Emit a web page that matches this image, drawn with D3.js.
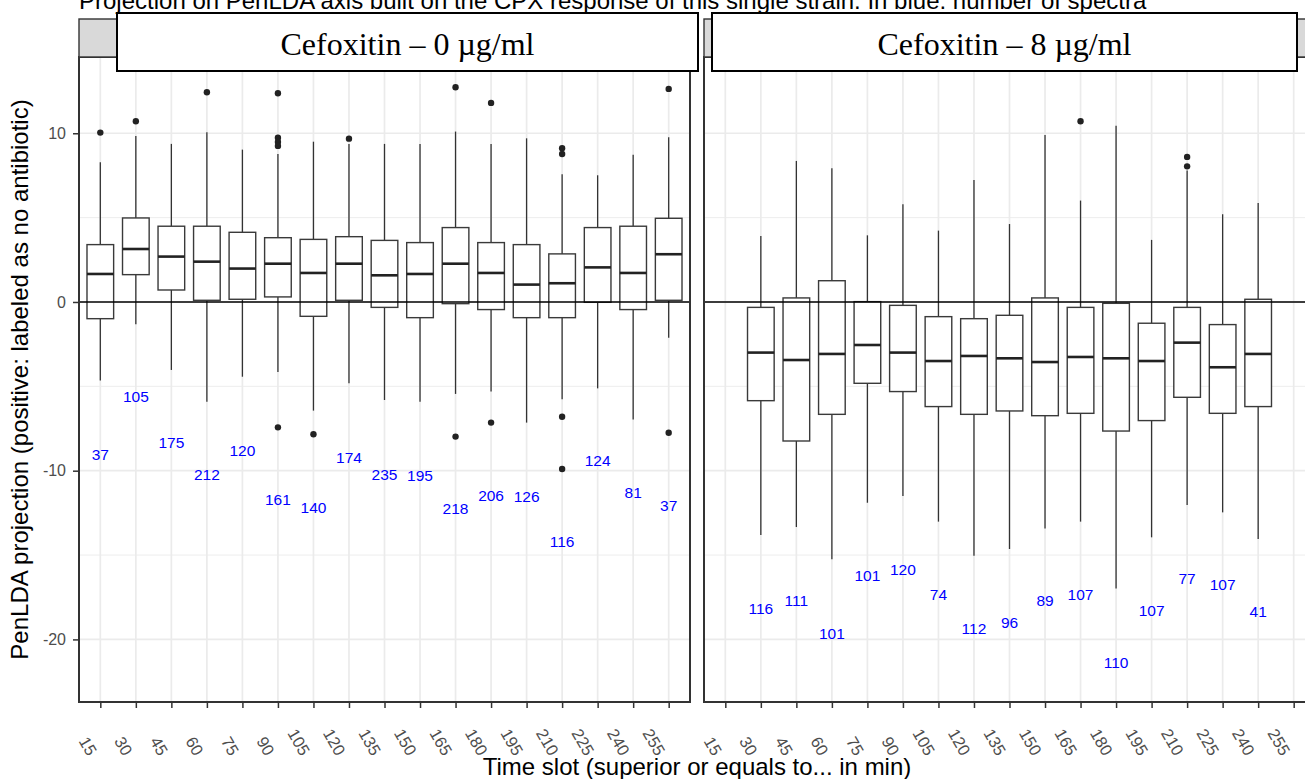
<!DOCTYPE html>
<html><head><meta charset="utf-8">
<script src="https://cdn.jsdelivr.net/npm/d3@7"></script>
<style>body{margin:0;background:#fff} svg{display:block}</style>
</head><body>
<svg id="chart" width="1305" height="779"></svg>
<script>
// ---------------- DATA ----------------
const titleText = "Projection on PenLDA axis built on the CPX response of this single strain. In blue: number of spectra";
const xTitle = "Time slot (superior or equals to... in min)";
const yTitle = "PenLDA projection (positive: labeled as no antibiotic)";
const panelLabels = ["Cefoxitin \u2013 0 \u00b5g/ml", "Cefoxitin \u2013 8 \u00b5g/ml"];
const timeSlots = ["15","30","45","60","75","90","105","120","135","150","165","180","195","210","225","240","255"];
const yTicks = [-20, -10, 0, 10];
const yMinorTicks = [-15, -5, 5];

// Cefoxitin 0 ug/ml
const fox0Lower  = [-4.66, -1.32, -4.03, -5.91, -4.43, -4.15, -6.44, -4.82, -5.81, -5.91, -5.45, -5.31, -7.15, -5.77, -5.12, -6.96, -2.12];
const fox0Q1     = [-0.99, 1.62, 0.71, 0.10, 0.16, 0.30, -0.85, 0.10, -0.32, -0.93, -0.10, -0.45, -0.93, -0.93, -0.02, -0.45, 0.10];
const fox0Median = [1.66, 3.14, 2.69, 2.39, 1.98, 2.27, 1.72, 2.27, 1.58, 1.66, 2.27, 1.72, 1.03, 1.11, 2.05, 1.72, 2.83];
const fox0Q3     = [3.40, 4.98, 4.49, 4.49, 4.13, 3.81, 3.71, 3.87, 3.65, 3.52, 4.41, 3.52, 3.40, 2.85, 4.41, 4.49, 4.96];
const fox0Upper  = [8.28, 9.84, 9.37, 10.06, 9.03, 8.77, 9.50, 9.37, 9.37, 9.37, 10.10, 9.37, 9.70, 7.57, 7.51, 8.73, 9.76];
const fox0Outliers = [[10.04],[10.71],[],[12.43],[],[12.37,9.74,9.48,9.25,-7.43],[-7.84],[9.68],[],[],[12.73,-7.98],[11.80,-7.15],[],[9.11,8.77,-6.80,-9.90],[],[],[12.63,-7.75]];
const fox0Counts = [37,105,175,212,120,161,140,174,235,195,218,206,126,116,124,81,37];
const fox0CountY = [-9.03,-5.61,-8.34,-10.21,-8.77,-11.70,-12.15,-9.23,-10.21,-10.28,-12.21,-11.44,-11.50,-14.17,-9.42,-11.30,-12.03];

// Cefoxitin 8 ug/ml (no spectra at 15 and 255)
const fox8Lower  = [null, -13.81, -13.34, -15.25, -11.90, -11.50, -13.02, -15.04, -14.64, -13.42, -13.02, -16.98, -13.95, -12.03, -12.47, -14.05, null];
const fox8Q1     = [null, -5.85, -8.24, -6.66, -4.82, -5.31, -6.20, -6.66, -6.46, -6.74, -6.60, -7.65, -7.03, -5.65, -6.60, -6.20, null];
const fox8Median = [null, -3.00, -3.44, -3.08, -2.55, -3.00, -3.50, -3.20, -3.34, -3.56, -3.26, -3.34, -3.50, -2.41, -3.87, -3.08, null];
const fox8Q3     = [null, -0.32, 0.24, 1.26, 0.02, -0.20, -0.87, -0.99, -0.79, 0.24, -0.32, -0.08, -1.26, -0.32, -1.34, 0.16, null];
const fox8Upper  = [null, 3.91, 8.36, 7.92, 3.95, 5.79, 4.23, 7.23, 4.62, 9.90, 6.01, 10.45, 3.68, 7.79, 5.20, 5.87, null];
const fox8Outliers = [[],[],[],[],[],[],[],[],[],[],[10.71],[],[],[8.60,8.04],[],[],[]];
const fox8Counts = [null,116,111,101,101,120,74,112,96,89,107,110,107,77,107,41,null];
const fox8CountY = [null,-18.14,-17.66,-19.64,-16.20,-15.83,-17.31,-19.37,-18.99,-17.71,-17.31,-21.34,-18.26,-16.38,-16.74,-18.32,null];

// ---------------- LAYOUT ----------------
const SANS = "'Liberation Sans', Arial, Helvetica, sans-serif";
const SERIF = "'Liberation Serif', 'Times New Roman', serif";
const panelX = [[79, 690], [704, 1315]];
const plotTop = 57, plotBottom = 702;
const stripTop = 19;
const labelBoxes = [[117, 13, 698, 71], [712, 13, 1297, 71]];

const svg = d3.select("#chart");
const y = d3.scaleLinear().domain([-23.71, 14.52]).range([plotBottom, plotTop]);

const panelData = [
  {lower: fox0Lower, q1: fox0Q1, med: fox0Median, q3: fox0Q3, upper: fox0Upper, out: fox0Outliers, n: fox0Counts, ny: fox0CountY},
  {lower: fox8Lower, q1: fox8Q1, med: fox8Median, q3: fox8Q3, upper: fox8Upper, out: fox8Outliers, n: fox8Counts, ny: fox8CountY}
];

// title (top clipped like the reference)
svg.append("text").attr("x", 79).attr("y", 9)
  .attr("font-family", SANS).attr("font-size", 24).attr("fill", "#000")
  .text(titleText);

panelData.forEach((pd, pi) => {
  const [x0, x1] = panelX[pi];
  const x = d3.scalePoint().domain(timeSlots).range([x0, x1]).padding(0.6);
  const bw = x.step() * 0.75;
  const g = svg.append("g");

  g.append("rect").attr("x", x0).attr("y", plotTop).attr("width", x1 - x0).attr("height", plotBottom - plotTop).attr("fill", "#fff");

  // grid
  g.selectAll("line.minor").data(yMinorTicks).join("line")
    .attr("x1", x0).attr("x2", x1).attr("y1", d => y(d)).attr("y2", d => y(d))
    .attr("stroke", "#EBEBEB").attr("stroke-width", 0.9);
  g.selectAll("line.majy").data(yTicks).join("line")
    .attr("x1", x0).attr("x2", x1).attr("y1", d => y(d)).attr("y2", d => y(d))
    .attr("stroke", "#EBEBEB").attr("stroke-width", 1.7);
  g.selectAll("line.majx").data(timeSlots).join("line")
    .attr("x1", d => x(d)).attr("x2", d => x(d)).attr("y1", plotTop).attr("y2", plotBottom)
    .attr("stroke", "#EBEBEB").attr("stroke-width", 1.7);

  const idx = timeSlots.map((d, i) => i).filter(i => pd.med[i] !== null);

  // whiskers
  g.selectAll("line.wu").data(idx).join("line")
    .attr("x1", i => x(timeSlots[i])).attr("x2", i => x(timeSlots[i]))
    .attr("y1", i => y(pd.q3[i])).attr("y2", i => y(pd.upper[i]))
    .attr("stroke", "#333").attr("stroke-width", 1.3);
  g.selectAll("line.wl").data(idx).join("line")
    .attr("x1", i => x(timeSlots[i])).attr("x2", i => x(timeSlots[i]))
    .attr("y1", i => y(pd.q1[i])).attr("y2", i => y(pd.lower[i]))
    .attr("stroke", "#333").attr("stroke-width", 1.3);
  // boxes
  g.selectAll("rect.box").data(idx).join("rect")
    .attr("x", i => x(timeSlots[i]) - bw / 2).attr("width", bw)
    .attr("y", i => y(pd.q3[i])).attr("height", i => y(pd.q1[i]) - y(pd.q3[i]))
    .attr("fill", "#fff").attr("stroke", "#3a3a3a").attr("stroke-width", 1.4);
  g.selectAll("line.med").data(idx).join("line")
    .attr("x1", i => x(timeSlots[i]) - bw / 2).attr("x2", i => x(timeSlots[i]) + bw / 2)
    .attr("y1", i => y(pd.med[i])).attr("y2", i => y(pd.med[i]))
    .attr("stroke", "#222").attr("stroke-width", 2.6);
  // outliers
  const outs = [];
  pd.out.forEach((arr, i) => arr.forEach(v => outs.push({c: timeSlots[i], v})));
  g.selectAll("circle.out").data(outs).join("circle")
    .attr("cx", d => x(d.c)).attr("cy", d => y(d.v)).attr("r", 3.2).attr("fill", "#222");

  // counts (blue)
  const cidx = timeSlots.map((d, i) => i).filter(i => pd.n[i] !== null);
  g.selectAll("text.cnt").data(cidx).join("text")
    .attr("x", i => x(timeSlots[i])).attr("y", i => y(pd.ny[i])).attr("dy", "0.36em")
    .attr("text-anchor", "middle").attr("font-family", SANS).attr("font-size", 15.5)
    .attr("fill", "#0000FF").text(i => pd.n[i]);

  // hline at 0
  g.append("line").attr("x1", x0).attr("x2", x1).attr("y1", y(0)).attr("y2", y(0))
    .attr("stroke", "#000").attr("stroke-width", 1.3);

  // panel border
  g.append("rect").attr("x", x0).attr("y", plotTop).attr("width", x1 - x0).attr("height", plotBottom - plotTop)
    .attr("fill", "none").attr("stroke", "#333").attr("stroke-width", 2);

  // x axis
  const xa = svg.append("g").attr("transform", `translate(0,${plotBottom})`)
    .call(d3.axisBottom(x).tickSize(6).tickSizeOuter(0));
  xa.select(".domain").remove();
  xa.selectAll(".tick line").attr("stroke", "#333").attr("stroke-width", 1.5);
  xa.selectAll(".tick text")
    .attr("x", 0).attr("y", 0).attr("dy", "0.72em")
    .attr("text-anchor", "end")
    .attr("transform", "translate(-3,49) rotate(60)")
    .attr("font-family", SANS).attr("font-size", 16.5).attr("fill", "#4D4D4D");

  // strip
  svg.append("rect").attr("x", x0).attr("y", stripTop).attr("width", x1 - x0).attr("height", plotTop - stripTop)
    .attr("fill", "#D9D9D9").attr("stroke", "#333").attr("stroke-width", 1.4);
});

// y axis (left panel only)
const ya = svg.append("g").attr("transform", `translate(${panelX[0][0]},0)`)
  .call(d3.axisLeft(y).tickValues(yTicks).tickSize(6).tickPadding(7).tickSizeOuter(0).tickFormat(d => String(d)));
ya.select(".domain").remove();
ya.selectAll(".tick line").attr("stroke", "#333").attr("stroke-width", 1.5);
ya.selectAll(".tick text").attr("font-family", SANS).attr("font-size", 16).attr("fill", "#4D4D4D");

// strip label boxes (white boxes overlaid)
labelBoxes.forEach((b, i) => {
  svg.append("rect").attr("x", b[0]).attr("y", b[1]).attr("width", b[2] - b[0]).attr("height", b[3] - b[1])
    .attr("fill", "#fff").attr("stroke", "#000").attr("stroke-width", 2);
  svg.append("text").attr("x", (b[0] + b[2]) / 2).attr("y", 55)
    .attr("text-anchor", "middle").attr("font-family", SERIF).attr("font-size", 32).attr("fill", "#000")
    .text(panelLabels[i]);
});

// axis titles
svg.append("text").attr("x", 697).attr("y", 775).attr("text-anchor", "middle")
  .attr("font-family", SANS).attr("font-size", 24).attr("fill", "#000").text(xTitle);
svg.append("text").attr("transform", `translate(28,${(plotTop + plotBottom) / 2}) rotate(-90)`)
  .attr("text-anchor", "middle").attr("font-family", SANS).attr("font-size", 24).attr("fill", "#000").text(yTitle);
</script>
</body></html>
